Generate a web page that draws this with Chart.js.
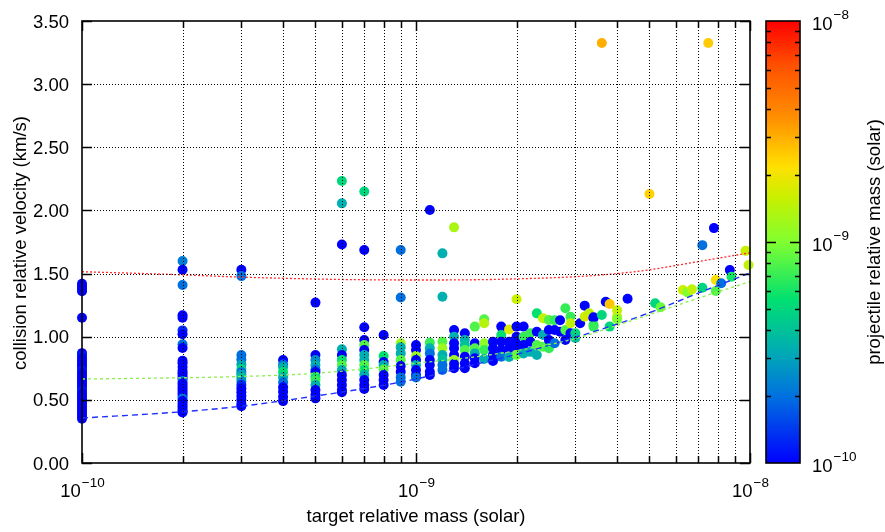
<!DOCTYPE html>
<html>
<head>
<meta charset="utf-8">
<script src="https://cdn.jsdelivr.net/npm/chart.js@4.4.1/dist/chart.umd.min.js"></script>
<style>
  html, body { margin: 0; padding: 0; background: #fff; }
  canvas { display: block; }
</style>
</head>
<body>
<canvas id="collisionChart" width="885" height="532"></canvas>
<script>
// ── Data: collisions grouped by target mass (solar) ──
// projectile masses are given in units of 1e-10 solar
const targetMass = [
  1e-10, 2e-10, 3e-10, 4e-10, 5e-10, 6e-10, 7e-10, 8e-10, 9e-10, 1e-9,
  1.1e-9, 1.2e-9, 1.3e-9, 1.4e-9, 1.5e-9, 1.6e-9, 1.7e-9, 1.8e-9, 1.9e-9, 2e-9,
  2.1e-9, 2.2e-9, 2.3e-9, 2.4e-9, 2.5e-9, 2.6e-9, 2.7e-9, 2.8e-9, 2.9e-9, 3e-9,
  3.1e-9, 3.2e-9, 3.3e-9, 3.4e-9, 3.6e-9, 3.7e-9, 3.8e-9, 4e-9, 4.3e-9, 5e-9,
  5.2e-9, 5.4e-9, 6.3e-9, 6.5e-9, 6.7e-9, 7.2e-9, 7.5e-9, 7.8e-9, 7.9e-9, 8.2e-9,
  8.7e-9, 8.8e-9, 9.7e-9, 9.9e-9
];

const velocity = [
  [1.42, 1.40, 1.38, 1.36, 1.15, 0.87, 0.85, 0.83, 0.81, 0.79, 0.77, 0.75, 0.73, 0.71, 0.69, 0.67,
   0.65, 0.63, 0.61, 0.59, 0.57, 0.55, 0.53, 0.51, 0.49, 0.47, 0.45, 0.43, 0.41, 0.39, 0.37, 0.35],
  [1.60, 1.53, 1.41, 1.17, 1.15, 1.05, 1.02, 0.94, 0.91, 0.81, 0.79, 0.76, 0.73, 0.71, 0.69,
   0.67, 0.65, 0.63, 0.61, 0.59, 0.57, 0.55, 0.53, 0.51, 0.49, 0.47, 0.45, 0.43, 0.41, 0.40],
  [1.53, 1.48, 0.855, 0.82, 0.78, 0.745, 0.72, 0.70, 0.675, 0.65, 0.62, 0.59, 0.56, 0.53, 0.50, 0.47, 0.45],
  [0.815, 0.78, 0.76, 0.72, 0.68, 0.64, 0.60, 0.565, 0.525, 0.49],
  [1.27, 0.855, 0.815, 0.776, 0.74, 0.72, 0.683, 0.657, 0.618, 0.578, 0.54, 0.512],
  [2.233, 2.056, 1.73, 0.90, 0.855, 0.815, 0.776, 0.736, 0.697, 0.657, 0.618, 0.578, 0.56],
  [2.15, 1.687, 1.075, 0.974, 0.934, 0.895, 0.855, 0.815, 0.776, 0.736, 0.697, 0.657, 0.618, 0.586],
  [1.013, 0.847, 0.80, 0.776, 0.74, 0.697, 0.657, 0.618],
  [1.687, 1.31, 0.948, 0.916, 0.868, 0.815, 0.768, 0.723, 0.678, 0.644],
  [0.934, 0.895, 0.847, 0.815, 0.776, 0.736, 0.697, 0.678],
  [2.003, 0.953, 0.908, 0.868, 0.815, 0.776, 0.723, 0.697],
  [1.66, 1.317, 0.96, 0.908, 0.855, 0.815, 0.776, 0.736],
  [1.866, 1.053, 1.0, 0.948, 0.908, 0.855, 0.815, 0.784, 0.75],
  [1.027, 0.974, 0.934, 0.895, 0.842, 0.79, 0.75],
  [1.08, 0.948, 0.908, 0.868, 0.83, 0.79],
  [1.138, 1.106, 0.948, 0.895, 0.823],
  [0.96, 0.908, 0.855, 0.807],
  [1.08, 1.013, 0.96, 0.895, 0.842],
  [1.058, 0.96, 0.908, 0.84],
  [1.296, 1.08, 1.0, 0.948, 0.895, 0.855],
  [1.08, 1.0, 0.934, 0.868],
  [1.027, 0.96, 0.88],
  [1.185, 1.04, 0.934, 0.855],
  [1.146, 1.013, 0.92],
  [1.132, 1.053, 0.974, 0.908],
  [1.13, 1.053, 0.948],
  [1.13, 1.04],
  [1.225, 1.053, 0.974],
  [1.158, 1.106, 1.027],
  [1.027, 0.99],
  [1.106],
  [1.246, 1.158],
  [1.17, 1.185],
  [1.146, 1.093, 1.154, 1.08],
  [3.326, 1.172],
  [1.277],
  [1.259, 1.08],
  [1.21, 1.158, 1.138],
  [1.30],
  [2.13],
  [1.265],
  [1.233],
  [1.37],
  [1.35],
  [1.375],
  [1.725, 1.388],
  [3.326],
  [1.86],
  [1.449, 1.362],
  [1.423],
  [1.528],
  [1.475],
  [1.68],
  [1.568]
];

const projectileMass = [
  [1, 1, 1, 1, 1, 1, 1.15, 1, 1, 1, 1, 1, 1.15, 1, 1, 1,
   1, 1, 1, 1, 1.15, 1, 1, 1, 1, 1, 1, 1, 1, 1, 1, 1],
  [2.2, 1, 2, 1, 1, 1.3, 1, 2, 1, 1, 1, 1, 1, 1, 1,
   1, 2, 1, 1, 1, 1, 1, 1, 2, 1, 1, 1, 1, 1, 1],
  [1, 2, 2, 2, 3, 5, 2, 3, 4, 2.5, 1.3, 1, 1, 1, 1, 1, 1],
  [1, 2, 3.3, 5.5, 3.3, 2, 1, 1, 1, 1],
  [1, 1, 2.5, 3.3, 2, 1, 5.5, 7, 3.3, 1, 1, 1],
  [5, 3.3, 1, 3.3, 1, 5.5, 8, 3.3, 1, 1, 1, 1, 1],
  [5, 1, 1, 1, 8, 1, 3.3, 3.3, 8, 5.5, 3.3, 1, 1, 1],
  [1, 5.5, 1, 3.3, 8, 1, 1, 1],
  [2, 2, 12, 3.3, 3.3, 8, 1, 1, 2, 2],
  [1, 1, 12, 1, 3.3, 1, 1, 2],
  [1, 7, 3.3, 2, 1, 1, 1, 1],
  [3.3, 3.3, 8, 12, 3.3, 4, 2, 2],
  [13, 1, 3.3, 1, 1, 1, 12, 1, 1],
  [1, 3.3, 4, 8, 1, 1, 1],
  [8, 1, 8, 3.3, 1, 1],
  [8, 14, 11, 7, 3.3],
  [1, 1, 1, 1],
  [1, 5.5, 1, 1, 2],
  [18, 1, 1, 3.3],
  [16, 1, 1, 1, 1, 9],
  [1, 7, 1, 3.3],
  [7, 1, 3.3],
  [5.5, 1, 8, 3.3],
  [15, 3.3, 8],
  [8, 1, 1, 7],
  [7, 1, 2],
  [1, 1],
  [7, 8, 1],
  [7, 15, 1],
  [5, 4],
  [1],
  [1, 16],
  [24, 15],
  [1, 6, 1, 7],
  [30, 5],
  [1],
  [26, 5],
  [15, 15, 10],
  [1],
  [24],
  [5],
  [9],
  [16],
  [10],
  [15],
  [2, 5],
  [25],
  [1],
  [22, 8],
  [2],
  [1],
  [6],
  [16],
  [15]
];

// ── Reference curves ──
const curveMass  = [1e-10, 2e-10, 3e-10, 5e-10, 7e-10, 1e-9, 1.5e-9, 2e-9, 3e-9, 4e-9, 5e-9, 7e-9, 1e-8];
const redCurve   = [1.515, 1.49, 1.472, 1.457, 1.451, 1.449, 1.451, 1.458, 1.475, 1.50, 1.53, 1.595, 1.665];
const greenCurve = [0.665, 0.675, 0.685, 0.71, 0.745, 0.79, 0.84, 0.89, 0.985, 1.09, 1.175, 1.305, 1.436];
const blueCurve  = [0.356, 0.406, 0.45, 0.53, 0.59, 0.665, 0.78, 0.86, 0.995, 1.10, 1.19, 1.345, 1.505];

// ── Axis ticks ──
const yTickValues = [0, 0.5, 1, 1.5, 2, 2.5, 3, 3.5];
const yTickLabels = ['0.00', '0.50', '1.00', '1.50', '2.00', '2.50', '3.00', '3.50'];
const xMajorTicks = [1e-10, 1e-9, 1e-8];
const xMajorExps  = ['\u221210', '\u22129', '\u22128'];
const xMinorTicks = [2e-10, 3e-10, 4e-10, 5e-10, 6e-10, 7e-10, 8e-10, 9e-10,
                     2e-9, 3e-9, 4e-9, 5e-9, 6e-9, 7e-9, 8e-9, 9e-9];

// ── Colour map (fraction of the log colour range → colour) ──
const cmapStops = [
  [0.00, [0, 0, 255]], [0.15, [0, 112, 224]], [0.26, [0, 176, 176]], [0.37, [0, 224, 112]],
  [0.50, [128, 255, 48]], [0.60, [200, 240, 0]], [0.67, [255, 224, 0]], [0.78, [255, 144, 0]],
  [0.90, [255, 80, 0]], [1.00, [255, 0, 0]]
];

function cmap(t) {
  t = Math.max(0, Math.min(1, t));
  for (let i = 1; i < cmapStops.length; i++) {
    const [t1, c1] = cmapStops[i];
    const [t0, c0] = cmapStops[i - 1];
    if (t <= t1) {
      const f = (t - t0) / (t1 - t0);
      const c = c0.map((v, k) => Math.round(v + (c1[k] - v) * f));
      return `rgb(${c[0]},${c[1]},${c[2]})`;
    }
  }
  return 'rgb(255,0,0)';
}

// projectile mass (1e-10 units) → fraction on the 1e-10 .. 1e-8 log colour bar
const colourFraction = pm => Math.log10(pm) / 2;

// ── Build scatter points ──
const points = [];
const pointColours = [];
targetMass.forEach((m, i) => {
  velocity[i].forEach((v, j) => {
    points.push({ x: m, y: v });
    pointColours.push(cmap(colourFraction(projectileMass[i][j])));
  });
});

const curve = vals => curveMass.map((m, i) => ({ x: m, y: vals[i] }));

const FONT = '"Liberation Sans", Arial, Helvetica, sans-serif';
const TICK_PX = 18.5;
const SUP_PX = 13.5;
const TITLE_PX = 18.5;

// draws "10" with a superscript exponent, centred (or left aligned) at x
function drawPower(ctx, x, baseline, exp, align) {
  ctx.font = `${TICK_PX}px ${FONT}`;
  const wBase = ctx.measureText('10').width;
  ctx.font = `${SUP_PX}px ${FONT}`;
  const wExp = ctx.measureText(exp).width;
  const start = align === 'left' ? x : x - (wBase + wExp) / 2;
  ctx.textAlign = 'left';
  ctx.textBaseline = 'alphabetic';
  ctx.font = `${TICK_PX}px ${FONT}`;
  ctx.fillText('10', start, baseline);
  ctx.font = `${SUP_PX}px ${FONT}`;
  ctx.fillText(exp, start + wBase + 1, baseline - 10.5);
}

// ── Frame, grid, ticks, labels and colour bar ──
const framePlugin = {
  id: 'frame',
  afterDatasetsDraw(chart) {
    const { ctx, chartArea: a, scales: { x, y } } = chart;
    ctx.save();

    // dotted grid (drawn over the points, like the original)
    ctx.strokeStyle = '#000';
    ctx.lineWidth = 1;
    ctx.setLineDash([1, 2]);
    ctx.beginPath();
    yTickValues.slice(1, -1).forEach(v => {
      const py = Math.round(y.getPixelForValue(v)) + 0.5;
      ctx.moveTo(a.left, py); ctx.lineTo(a.right, py);
    });
    xMinorTicks.concat([1e-9]).forEach(m => {
      const px = Math.round(x.getPixelForValue(m)) + 0.5;
      ctx.moveTo(px, a.top); ctx.lineTo(px, a.bottom);
    });
    ctx.stroke();
    ctx.setLineDash([]);

    // tick marks
    ctx.lineWidth = 1.5;
    ctx.beginPath();
    yTickValues.forEach(v => {
      const py = Math.round(y.getPixelForValue(v)) + 0.5;
      ctx.moveTo(a.left, py); ctx.lineTo(a.left + 10, py);
      ctx.moveTo(a.right, py); ctx.lineTo(a.right - 10, py);
    });
    xMinorTicks.forEach(m => {
      const px = Math.round(x.getPixelForValue(m)) + 0.5;
      ctx.moveTo(px, a.bottom); ctx.lineTo(px, a.bottom - 7);
      ctx.moveTo(px, a.top); ctx.lineTo(px, a.top + 7);
    });
    xMajorTicks.forEach(m => {
      const px = Math.round(x.getPixelForValue(m)) + 0.5;
      ctx.moveTo(px, a.bottom); ctx.lineTo(px, a.bottom - 10);
      ctx.moveTo(px, a.top); ctx.lineTo(px, a.top + 10);
    });
    ctx.stroke();

    // frame
    ctx.lineWidth = 1.6;
    ctx.strokeRect(a.left, a.top, a.right - a.left, a.bottom - a.top);

    // tick labels
    ctx.fillStyle = '#000';
    ctx.font = `${TICK_PX}px ${FONT}`;
    ctx.textAlign = 'right';
    ctx.textBaseline = 'alphabetic';
    yTickValues.forEach((v, i) => {
      ctx.fillText(yTickLabels[i], a.left - 13, y.getPixelForValue(v) + 6.5);
    });
    xMajorTicks.forEach((m, i) => {
      drawPower(ctx, x.getPixelForValue(m), a.bottom + 34, xMajorExps[i], 'center');
    });

    // axis titles
    ctx.font = `${TITLE_PX}px ${FONT}`;
    ctx.textAlign = 'center';
    ctx.textBaseline = 'alphabetic';
    ctx.fillText('target relative mass (solar)', (a.left + a.right) / 2, 522);
    ctx.save();
    ctx.translate(26, (a.top + a.bottom) / 2 + 1);
    ctx.rotate(-Math.PI / 2);
    ctx.fillText('collision relative velocity (km/s)', 0, 0);
    ctx.restore();

    // colour bar
    const cb = { left: 766, right: 800, top: a.top, bottom: a.bottom };
    const grad = ctx.createLinearGradient(0, cb.bottom, 0, cb.top);
    cmapStops.forEach(([t]) => grad.addColorStop(t, cmap(t)));
    ctx.fillStyle = grad;
    ctx.fillRect(cb.left, cb.top, cb.right - cb.left, cb.bottom - cb.top);

    const cbY = m => cb.bottom - (Math.log10(m) + 10) / 2 * (cb.bottom - cb.top);
    ctx.strokeStyle = '#000';
    ctx.lineWidth = 1.5;
    ctx.beginPath();
    xMinorTicks.forEach(m => {
      const py = Math.round(cbY(m)) + 0.5;
      ctx.moveTo(cb.left, py); ctx.lineTo(cb.left + 5, py);
      ctx.moveTo(cb.right, py); ctx.lineTo(cb.right - 5, py);
    });
    const midY = Math.round(cbY(1e-9)) + 0.5;
    ctx.moveTo(cb.left, midY); ctx.lineTo(cb.left + 10, midY);
    ctx.moveTo(cb.right, midY); ctx.lineTo(cb.right - 10, midY);
    ctx.stroke();
    ctx.lineWidth = 1.6;
    ctx.strokeRect(cb.left, cb.top, cb.right - cb.left, cb.bottom - cb.top);

    ctx.fillStyle = '#000';
    xMajorTicks.forEach((m, i) => {
      drawPower(ctx, 812, cbY(m) + 8.5, xMajorExps[i], 'left');
    });

    ctx.font = `${TITLE_PX}px ${FONT}`;
    ctx.textAlign = 'center';
    ctx.save();
    ctx.translate(880, (cb.top + cb.bottom) / 2);
    ctx.rotate(-Math.PI / 2);
    ctx.fillText('projectile relative mass (solar)', 0, 0);
    ctx.restore();

    ctx.restore();
  }
};

new Chart(document.getElementById('collisionChart'), {
  type: 'scatter',
  data: {
    datasets: [{
      label: 'red limit',
      data: curve(redCurve),
      showLine: true, pointRadius: 0,
      borderColor: '#ff2a2a', borderWidth: 1.3, borderDash: [2, 2],
      cubicInterpolationMode: 'monotone'
    }, {
      label: 'green limit',
      data: curve(greenCurve),
      showLine: true, pointRadius: 0,
      borderColor: '#88f048', borderWidth: 1.3, borderDash: [3, 3],
      cubicInterpolationMode: 'monotone'
    }, {
      label: 'blue limit',
      data: curve(blueCurve),
      showLine: true, pointRadius: 0,
      borderColor: '#2030ff', borderWidth: 1.4, borderDash: [6, 4],
      cubicInterpolationMode: 'monotone'
    }, {
      label: 'collisions',
      data: points,
      pointRadius: 5,
      pointBorderWidth: 0,
      pointBackgroundColor: pointColours,
      clip: false
    }]
  },
  options: {
    responsive: false,
    animation: false,
    devicePixelRatio: 1,
    layout: { padding: { top: 21, right: 135, bottom: 0, left: 0 } },
    plugins: { legend: { display: false }, tooltip: { enabled: false } },
    scales: {
      x: {
        type: 'logarithmic', min: 1e-10, max: 1e-8,
        ticks: { display: false }, grid: { display: false }, border: { display: false },
        afterFit: s => { s.height = 69; }
      },
      y: {
        type: 'linear', min: 0, max: 3.5,
        ticks: { display: false }, grid: { display: false }, border: { display: false },
        afterFit: s => { s.width = 82; }
      }
    }
  },
  plugins: [framePlugin]
});
</script>
</body>
</html>
